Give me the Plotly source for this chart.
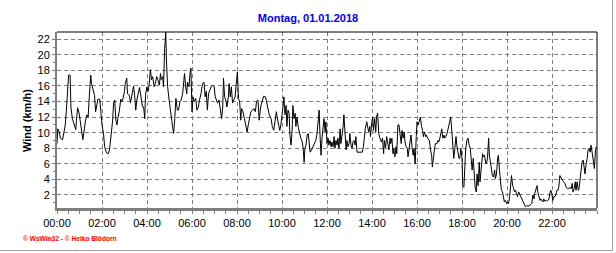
import plotly.graph_objects as go

# ---- data (minutes after midnight, wind in km/h) ----
time_min = [
    0, 2, 6, 9, 15, 18, 22, 25, 28, 31, 35, 37, 41, 46, 50, 52, 55, 59, 62, 67, 69, 73, 76, 80, 83, 86, 90, 92, 96,
    100, 103, 106, 109, 114, 116, 120, 124, 127, 132, 137, 140, 144, 148, 151, 154, 157, 160, 162, 166, 170, 173,
    176, 180, 182, 186, 188, 193, 196, 200, 204, 207, 210, 213, 217, 220, 224, 228, 231, 234, 236, 240, 243, 246,
    249, 252, 255, 259, 262, 266, 269, 273, 276, 278, 282, 284, 287, 290, 292, 295, 299, 302, 306, 308, 311, 314,
    317, 321, 324, 328, 331, 335, 338, 340, 343, 346, 348, 352, 355, 357, 360, 363, 366, 370, 373, 377, 380, 384,
    388, 392, 395, 398, 401, 404, 408, 411, 415, 419, 422, 426, 428, 432, 435, 439, 442, 444, 447, 451, 453, 457,
    459, 462, 465, 468, 471, 475, 478, 481, 484, 487, 490, 492, 496, 500, 503, 507, 510, 514, 517, 522, 525, 529,
    532, 536, 539, 543, 547, 551, 556, 559, 563, 566, 571, 574, 578, 581, 585, 587, 591, 594, 597, 600, 603, 605,
    608, 611, 613, 616, 619, 621, 624, 627, 629, 632, 635, 637, 640, 643, 646, 650, 653, 656, 659, 661, 664, 667,
    670, 673, 675, 679, 683, 686, 690, 693, 696, 699, 701, 704, 707, 709, 712, 715, 717, 720, 723, 725, 728, 731,
    733, 736, 739, 741, 744, 747, 749, 752, 755, 757, 760, 763, 765, 768, 771, 773, 776, 779, 781, 784, 787, 789,
    792, 795, 797, 800, 807, 814, 817, 819, 822, 826, 828, 831, 834, 836, 839, 842, 844, 847, 850, 852, 855, 858,
    861, 865, 868, 871, 873, 876, 879, 882, 885, 888, 890, 893, 896, 898, 901, 904, 906, 909, 912, 915, 918, 920,
    923, 926, 928, 931, 934, 936, 939, 942, 944, 947, 950, 952, 955, 958, 960, 963, 966, 969, 972, 975, 977, 980,
    983, 985, 988, 991, 993, 996, 999, 1001, 1004, 1007, 1009, 1013, 1016, 1018, 1021, 1024, 1026, 1029, 1032,
    1034, 1037, 1040, 1042, 1045, 1048, 1050, 1053, 1056, 1058, 1061, 1064, 1066, 1069, 1072, 1074, 1077, 1080,
    1082, 1085, 1088, 1090, 1093, 1096, 1099, 1102, 1104, 1107, 1110, 1112, 1115, 1118, 1120, 1123, 1126, 1128,
    1131, 1135, 1137, 1140, 1143, 1145, 1148, 1151, 1153, 1156, 1159, 1161, 1164, 1167, 1169, 1172, 1175, 1177,
    1180, 1183, 1185, 1188, 1191, 1193, 1196, 1199, 1201, 1204, 1207, 1209, 1212, 1215, 1217, 1220, 1223, 1225,
    1228, 1231, 1233, 1236, 1239, 1241, 1244, 1247, 1249, 1252, 1255, 1259, 1264, 1266, 1269, 1272, 1274, 1277,
    1280, 1282, 1285, 1288, 1290, 1293, 1296, 1298, 1301, 1304, 1306, 1309, 1312, 1314, 1317, 1320, 1322, 1325,
    1328, 1330, 1333, 1336, 1338, 1341, 1344, 1347, 1351, 1354, 1358, 1361, 1365, 1368, 1371, 1374, 1376, 1379,
    1382, 1384, 1387, 1390, 1392, 1395, 1398, 1400, 1403, 1406, 1408, 1411, 1414, 1416, 1419, 1422, 1424, 1427,
    1430, 1433, 1436, 1438,
]
wind_kmh = [
    8.6, 10.5, 10.1, 9.3, 9.1, 9.8, 11.0, 12.9, 15.7, 17.4, 17.4, 13.3, 11.8, 11.0, 10.4, 11.6, 13.2, 12.5, 11.6,
    9.9, 9.1, 10.5, 11.6, 12.3, 12.0, 14.6, 17.4, 16.3, 15.3, 14.8, 12.7, 13.5, 14.3, 14.3, 12.9, 11.0, 9.9, 8.2,
    7.4, 7.3, 7.8, 9.5, 11.4, 13.8, 14.2, 11.6, 11.0, 11.8, 12.7, 14.3, 14.0, 14.4, 15.3, 16.3, 17.0, 15.0, 14.8,
    13.8, 14.8, 16.0, 14.8, 12.9, 14.2, 15.0, 15.8, 14.6, 13.3, 13.3, 11.8, 14.8, 15.9, 15.3, 16.3, 18.1, 16.8,
    17.2, 15.9, 16.3, 17.2, 16.8, 16.1, 17.6, 16.8, 17.2, 15.9, 20.8, 22.9, 19.1, 15.9, 14.2, 12.7, 11.6, 10.8,
    9.9, 11.8, 14.4, 12.9, 12.9, 14.0, 14.2, 15.0, 16.8, 17.6, 15.9, 15.0, 16.5, 15.9, 17.8, 18.3, 12.7, 14.6,
    14.0, 14.4, 12.9, 13.3, 14.2, 15.0, 16.3, 16.5, 14.6, 15.3, 12.9, 15.0, 15.5, 15.9, 16.1, 15.9, 14.6, 14.0,
    13.8, 14.2, 12.9, 11.8, 13.3, 17.0, 14.6, 14.0, 13.3, 14.6, 16.3, 14.6, 15.9, 13.8, 14.2, 14.6, 16.3, 17.8,
    14.4, 14.0, 11.6, 13.1, 12.7, 11.8, 11.2, 10.1, 11.0, 12.0, 12.7, 12.9, 13.1, 12.7, 14.0, 14.2, 11.6, 13.3,
    14.2, 14.7, 14.6, 14.0, 13.1, 12.3, 11.8, 10.8, 10.3, 11.6, 12.7, 12.0, 11.2, 10.3, 11.0, 12.0, 13.5, 14.6,
    12.3, 13.5, 10.8, 12.9, 12.5, 9.7, 8.4, 10.3, 13.5, 11.8, 12.5, 10.8, 12.0, 10.8, 10.1, 9.3, 9.0, 8.2, 6.2,
    8.0, 8.4, 9.7, 9.9, 8.4, 7.5, 7.8, 8.2, 8.4, 9.0, 9.7, 11.2, 12.9, 10.1, 7.1, 9.5, 10.3, 11.8, 10.1, 11.4,
    8.6, 9.3, 8.4, 9.0, 8.2, 8.8, 8.2, 9.5, 8.0, 9.0, 8.4, 9.3, 8.0, 10.5, 8.6, 9.7, 10.8, 12.3, 9.3, 7.8, 9.0,
    8.2, 8.6, 9.9, 8.4, 8.0, 8.8, 9.0, 8.4, 9.5, 7.5, 7.5, 7.5, 8.2, 9.5, 10.5, 11.4, 11.0, 10.1, 10.8, 9.5,
    11.2, 12.0, 10.3, 11.8, 10.1, 12.0, 12.5, 9.9, 9.3, 8.8, 9.3, 7.3, 9.0, 8.0, 9.5, 8.4, 7.8, 9.3, 8.6, 9.3,
    7.3, 8.0, 6.9, 8.2, 7.3, 11.0, 11.0, 9.7, 8.6, 10.3, 9.3, 10.1, 8.8, 8.2, 8.0, 6.9, 8.2, 9.3, 9.7, 8.0, 7.1,
    8.0, 6.0, 9.5, 11.4, 11.0, 11.6, 12.0, 10.8, 10.3, 9.5, 10.1, 9.5, 9.7, 9.3, 9.0, 9.0, 7.8, 7.1, 5.6, 7.1,
    8.0, 8.6, 8.6, 9.0, 8.8, 9.3, 9.9, 10.5, 9.3, 9.7, 9.3, 9.5, 9.9, 10.3, 10.8, 11.4, 12.0, 10.1, 8.6, 6.7,
    8.0, 9.5, 8.4, 7.3, 6.7, 6.7, 8.0, 6.7, 3.2, 3.0, 6.0, 8.0, 9.0, 9.3, 8.4, 8.0, 6.9, 5.2, 6.7, 5.2, 3.0, 2.4,
    4.7, 3.2, 6.2, 3.7, 5.8, 7.3, 6.9, 7.1, 6.2, 6.0, 6.7, 9.3, 7.1, 6.2, 5.6, 4.5, 4.3, 5.2, 4.1, 4.7, 6.7, 7.1,
    5.2, 3.0, 2.6, 2.4, 1.5, 1.1, 1.3, 0.9, 1.1, 0.9, 1.8, 2.6, 4.5, 3.2, 3.0, 2.4, 2.6, 2.2, 1.8, 2.4, 2.2, 2.0,
    1.5, 1.5, 1.1, 0.8, 0.5, 0.6, 0.6, 0.6, 0.8, 0.9, 2.0, 1.5, 2.2, 2.6, 3.2, 2.4, 1.8, 1.3, 1.5, 1.3, 1.1, 1.5,
    1.2, 1.3, 1.2, 1.3, 1.5, 2.2, 2.6, 2.0, 1.3, 1.8, 1.8, 2.0, 2.6, 2.6, 3.0, 4.5, 4.1, 3.9, 3.7, 3.5, 3.0, 2.8,
    2.8, 3.0, 2.8, 3.5, 2.4, 2.8, 3.7, 2.6, 3.7, 2.6, 2.8, 4.1, 5.2, 6.2, 6.5, 5.2, 4.7, 6.0, 6.7, 7.8, 8.0, 7.5,
    8.4, 7.5, 6.2, 5.4, 7.8, 8.2,
]
tick_vals = [0, 120, 240, 360, 480, 600, 720, 840, 960, 1080, 1200, 1320]
tick_text = ["00:00", "02:00", "04:00", "06:00", "08:00", "10:00",
             "12:00", "14:00", "16:00", "18:00", "20:00", "22:00"]
title_text = "Montag, 01.01.2018"
y_title = "Wind (km/h)"
footer_text = "© WsWin32 - © Heiko Blödorn"

# ---- layout geometry ----
W, H = 616, 253
ML, MR, MT, MB = 57, 19, 32, 45
PW, PH = W - ML - MR, H - MT - MB


def px_x(x):
    return (x - ML) / PW


def px_y(y):
    return (H - MB - y) / PH


FONT = "Liberation Sans, Arial, sans-serif"
GRAY = "#808080"

fig = go.Figure()
fig.add_trace(go.Scatter(x=time_min, y=wind_kmh, mode="lines",
                         line=dict(color="black", width=1), cliponaxis=True,
                         hoverinfo="skip"))

fig.update_layout(
    width=W, height=H,
    margin=dict(l=ML, r=MR, t=MT, b=MB, pad=0),
    paper_bgcolor="white", plot_bgcolor="white",
    showlegend=False,
    font=dict(family=FONT, size=11, color="black"),
    title=dict(text="<b>" + title_text + "</b>", xref="container", x=0.5,
               yref="container", y=1 - 18 / H, xanchor="center", yanchor="middle",
               font=dict(family=FONT, size=11, color="#0000ff")),
    xaxis=dict(range=[0, 1440], tickvals=tick_vals, ticktext=tick_text,
               showgrid=True, gridcolor=GRAY, griddash="4px,3px", gridwidth=1,
               showline=True, linecolor=GRAY, linewidth=3,
               ticks="outside", ticklen=3, tickcolor=GRAY, tickwidth=1,
               minor=dict(dtick=30, tick0=0, ticks="outside", ticklen=3,
                          tickcolor=GRAY, showgrid=False),
               zeroline=False, fixedrange=True),
    yaxis=dict(range=[0.33, 22.93], tickmode="linear", tick0=0, dtick=2,
               showgrid=True, gridcolor=GRAY, griddash="4px,3px", gridwidth=1,
               showline=True, linecolor=GRAY, linewidth=2,
               ticks="outside", ticklen=3, tickcolor=GRAY, tickwidth=1,
               minor=dict(dtick=1, tick0=0, ticks="outside", ticklen=2,
                          tickcolor=GRAY, showgrid=False),
               zeroline=False, fixedrange=True),
)

# black top / right frame of the plot area
fig.add_shape(type="line", xref="paper", yref="paper", x0=0, x1=1, y0=1, y1=1,
              line=dict(color="black", width=1))
fig.add_shape(type="line", xref="paper", yref="paper", x0=1, x1=1, y0=0, y1=1,
              line=dict(color="black", width=1))
# outer gray frame (right and bottom)
fig.add_shape(type="line", xref="paper", yref="paper", x0=px_x(612.5), x1=px_x(612.5),
              y0=px_y(0), y1=px_y(250.5), line=dict(color="#a0a0a0", width=1))
fig.add_shape(type="line", xref="paper", yref="paper", x0=px_x(0), x1=px_x(612.5),
              y0=px_y(250.5), y1=px_y(250.5), line=dict(color="#a0a0a0", width=1))

fig.add_annotation(text="<b>" + y_title + "</b>", xref="paper", yref="paper",
                   x=px_x(27), y=px_y(121), textangle=-90, showarrow=False,
                   xanchor="center", yanchor="middle",
                   font=dict(family=FONT, size=11, color="black"))
fig.add_annotation(text="<b>" + footer_text + "</b>", xref="paper", yref="paper",
                   x=px_x(21), y=px_y(238.5), showarrow=False,
                   xanchor="left", yanchor="middle",
                   font=dict(family=FONT, size=6.6, color="#ff0000"))

fig.write_html("out.html")
